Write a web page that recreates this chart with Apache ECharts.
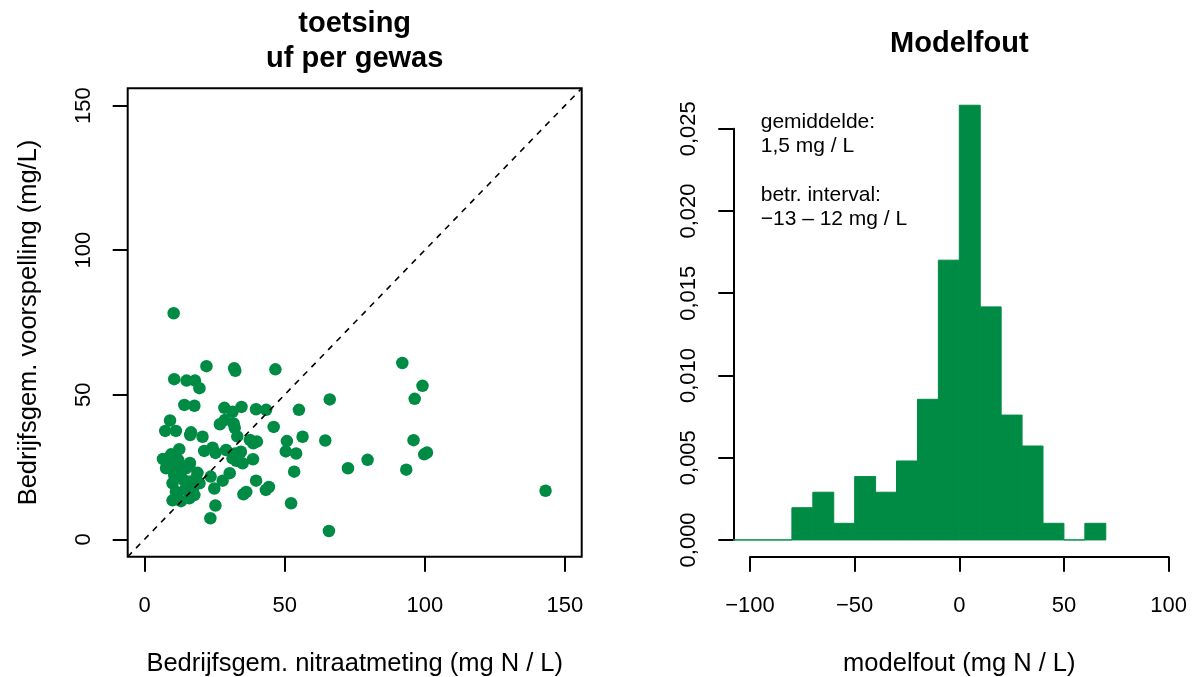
<!DOCTYPE html>
<html>
<head>
<meta charset="utf-8">
<script src="https://cdn.jsdelivr.net/npm/echarts@6/dist/echarts.min.js"></script>
<style>
  html, body { margin: 0; padding: 0; background: #fff; }
  #chart { width: 1194px; height: 677px; }
</style>
</head>
<body>
<div id="chart"></div>
<script>
// ---- data: bedrijfsgemiddelde meting vs. voorspelling (mg/L) ----
const measX = [
  10.4, 22.1, 32.0, 32.4, 46.7, 10.6, 15.0, 18.0, 19.6, 66.1,
  14.2, 17.8, 28.5, 31.4, 34.6, 39.8, 43.4, 55.1, 9.1, 28.7,
  26.9, 31.8, 32.2, 46.1, 7.4, 11.2, 16.6, 16.3, 20.7, 33.1,
  37.6, 38.8, 40.1, 50.8, 56.4, 64.5, 12.4, 9.5, 6.6, 21.3,
  24.3, 25.3, 29.1, 32.3, 34.4, 31.4, 32.8, 35.0, 38.7, 50.4,
  54.1, 72.6, 53.4, 30.4, 23.6, 27.9, 39.8, 24.9, 44.4, 43.3,
  35.3, 36.3, 52.3, 25.3, 23.5, 65.8, 92.0, 99.2, 96.4, 96.0,
  100.8, 99.8, 79.6, 93.4, 143.1, 7.7, 8.6, 10.0, 13.6, 14.8,
  16.0, 13.0, 10.6, 12.4, 18.4, 16.0, 17.8, 10.0, 19.6, 11.2,
  14.5, 17.2, 10.0, 13.0, 16.0, 17.8, 16.2, 12.0, 14.0, 18.9,
  11.8
];
const predY = [
  78.2, 59.9, 59.2, 58.3, 58.8, 55.4, 54.9, 54.9, 52.3, 48.4,
  46.5, 46.2, 45.5, 44.1, 45.8, 45.0, 44.8, 44.8, 41.1, 41.3,
  39.8, 40.1, 38.6, 38.9, 37.5, 37.5, 37.0, 36.1, 35.5, 35.6,
  34.4, 33.2, 33.8, 34.0, 35.5, 34.2, 31.2, 29.4, 27.8, 30.6,
  31.7, 29.9, 30.9, 29.7, 30.3, 28.0, 27.2, 26.3, 27.7, 30.4,
  29.7, 24.6, 23.4, 22.9, 21.7, 20.3, 20.3, 17.6, 18.1, 17.1,
  15.6, 16.4, 12.5, 11.7, 7.3, 2.9, 61.0, 53.1, 48.6, 34.3,
  30.0, 29.4, 27.5, 24.1, 16.8, 24.6, 26.0, 25.7, 25.1, 24.6,
  25.4, 23.4, 22.2, 22.8, 21.2, 19.9, 19.9, 19.4, 19.4, 16.5,
  17.3, 17.2, 13.5, 13.2, 14.2, 15.3, 26.4, 27.5, 20.5, 23.0,
  14.5
];

// ---- data: histogram of the model error (density per 10 mg N/L bin) ----
const binStarts = [-110, -100, -90, -80, -70, -60, -50, -40, -30, -20, -10, 0, 10, 20, 30, 40, 50, 60];
const binWidth = 10;
const density = [0, 0, 0, 0.00196, 0.0029, 0.00101, 0.00385, 0.0029, 0.0048, 0.00855,
                 0.01701, 0.02643, 0.01417, 0.00759, 0.00571, 0.00101, 0, 0.00101];

// ---- tick labels / axis ranges ----
const scatterTicks = [0, 50, 100, 150];
const histXTicks = [-100, -50, 0, 50, 100];
const histYTicks = [0, 0.005, 0.010, 0.015, 0.020, 0.025];
const scatterLim = [-6, 156];          // 0..150 widened by 4 %
const histXLim = [-108, 108];          // -100..100 widened by 4 %
const histYLim = [-0.00102, 0.02746];

// ---- layout ----
const FONT = '"Liberation Sans", Arial, Helvetica, sans-serif';
const GREEN = '#008B45';
const W = 1194, H = 677;
const leftBox  = { left: 127.7, top: 88.3, width: 454, height: 468.4 };
const rightBox = { left: 733.3, top: 88.3, width: 452, height: 468.4 };

// pixel span of [a, b] inside a box along x or y given the box's data limits
function spanX(box, lim, a, b) {
  const k = box.width / (lim[1] - lim[0]);
  return { left: box.left + (a - lim[0]) * k, width: (b - a) * k };
}
function spanY(box, lim, a, b) {
  const k = box.height / (lim[1] - lim[0]);
  return { top: box.top + (lim[1] - b) * k, height: (b - a) * k };
}

const sx = spanX(leftBox, scatterLim, scatterTicks[0], scatterTicks[scatterTicks.length - 1]);
const sy = spanY(leftBox, scatterLim, scatterTicks[0], scatterTicks[scatterTicks.length - 1]);
const hx = spanX(rightBox, histXLim, histXTicks[0], histXTicks[histXTicks.length - 1]);
const hy = spanY(rightBox, histYLim, histYTicks[0], histYTicks[histYTicks.length - 1]);
const boxBottom = H - (leftBox.top + leftBox.height);

const tickStyle = { show: true, inside: false, length: 15, lineStyle: { color: '#000', width: 2 } };
const labelStyle = { color: '#000', fontSize: 22, fontFamily: FONT };
const nameStyle = { color: '#000', fontSize: 25.5, fontFamily: FONT };
const minus = v => String(v).replace('-', '\u2212');

const grids = [
  { left: leftBox.left, top: leftBox.top, width: leftBox.width, height: leftBox.height,
    show: true, borderColor: '#000', borderWidth: 2, backgroundColor: 'transparent' },
  { left: sx.left, width: sx.width, bottom: boxBottom, height: 10 },
  { left: leftBox.left, width: 10, top: sy.top, height: sy.height },
  { left: rightBox.left, top: rightBox.top, width: rightBox.width, height: rightBox.height },
  { left: hx.left, width: hx.width, bottom: boxBottom, height: 10 },
  { left: rightBox.left, width: 10, top: hy.top, height: hy.height }
].map(g => Object.assign({ containLabel: false, outerBoundsMode: 'none' }, g));

const option = {
  animation: false,
  backgroundColor: '#fff',
  grid: grids,
  xAxis: [
    { gridIndex: 0, type: 'value', min: scatterLim[0], max: scatterLim[1], show: false },
    { gridIndex: 1, type: 'value', min: scatterTicks[0], max: scatterTicks[3], interval: 50,
      axisLine: { show: false }, axisTick: tickStyle, splitLine: { show: false },
      axisLabel: Object.assign({ margin: 38 }, labelStyle),
      name: 'Bedrijfsgem. nitraatmeting (mg N / L)', nameLocation: 'middle', nameGap: 94,
      nameTextStyle: nameStyle },
    { gridIndex: 2, type: 'value', show: false },
    { gridIndex: 3, type: 'value', min: histXLim[0], max: histXLim[1], show: false },
    { gridIndex: 4, type: 'value', min: histXTicks[0], max: histXTicks[4], interval: 50,
      axisLine: { show: true, lineStyle: { color: '#000', width: 2 } },
      axisTick: tickStyle, splitLine: { show: false },
      axisLabel: Object.assign({ margin: 38, formatter: minus }, labelStyle),
      name: 'modelfout (mg N / L)', nameLocation: 'middle', nameGap: 94,
      nameTextStyle: nameStyle },
    { gridIndex: 5, type: 'value', show: false }
  ],
  yAxis: [
    { gridIndex: 0, type: 'value', min: scatterLim[0], max: scatterLim[1], show: false },
    { gridIndex: 1, type: 'value', show: false },
    { gridIndex: 2, type: 'value', min: scatterTicks[0], max: scatterTicks[3], interval: 50,
      axisLine: { show: false }, axisTick: tickStyle, splitLine: { show: false },
      axisLabel: Object.assign({ margin: 33, rotate: 90 }, labelStyle),
      name: 'Bedrijfsgem. voorspelling (mg/L)', nameLocation: 'middle', nameGap: 86,
      nameRotate: 90, nameTextStyle: nameStyle },
    { gridIndex: 3, type: 'value', min: histYLim[0], max: histYLim[1], show: false },
    { gridIndex: 4, type: 'value', show: false },
    { gridIndex: 5, type: 'value', min: histYTicks[0], max: histYTicks[5], interval: 0.005,
      axisLine: { show: true, lineStyle: { color: '#000', width: 2 } },
      axisTick: tickStyle, splitLine: { show: false },
      axisLabel: Object.assign({ margin: 33, rotate: 90,
        formatter: v => v.toFixed(3).replace('.', ',') }, labelStyle) }
  ],
  series: [
    {
      type: 'scatter', xAxisIndex: 0, yAxisIndex: 0, silent: true, z: 2,
      symbol: 'circle', symbolSize: 12.5,
      itemStyle: { color: GREEN, opacity: 1 },
      data: measX.map((x, i) => [x, predY[i]])
    },
    {
      // 1:1 reference line across the full plotting range
      type: 'line', xAxisIndex: 0, yAxisIndex: 0, silent: true, z: 3,
      symbol: 'none',
      lineStyle: { color: '#000', width: 1.6, type: [6, 6] },
      data: [[scatterLim[0], scatterLim[0]], [scatterLim[1], scatterLim[1]]]
    },
    {
      type: 'custom', xAxisIndex: 3, yAxisIndex: 3, silent: true, clip: true,
      data: binStarts.map((b, i) => [b, b + binWidth, density[i]]),
      encode: { x: [0, 1], y: 2 },
      renderItem: (params, api) => {
        const p0 = api.coord([api.value(0), api.value(2)]);
        const p1 = api.coord([api.value(1), 0]);
        return {
          type: 'rect',
          shape: { x: p0[0], y: p0[1], width: p1[0] - p0[0], height: p1[1] - p0[1] },
          style: { fill: GREEN, stroke: GREEN, lineWidth: 1 }
        };
      }
    }
  ],
  graphic: [
    { type: 'text', x: leftBox.left + leftBox.width / 2, y: 24, silent: true,
      style: { text: 'toetsing', fontSize: 29, fontWeight: 'bold', fontFamily: FONT, fill: '#000',
               align: 'center', verticalAlign: 'middle', textAlign: 'center', textVerticalAlign: 'middle' } },
    { type: 'text', x: leftBox.left + leftBox.width / 2, y: 59, silent: true,
      style: { text: 'uf per gewas', fontSize: 29, fontWeight: 'bold', fontFamily: FONT, fill: '#000',
               align: 'center', verticalAlign: 'middle', textAlign: 'center', textVerticalAlign: 'middle' } },
    { type: 'text', x: rightBox.left + rightBox.width / 2, y: 44, silent: true,
      style: { text: 'Modelfout', fontSize: 29, fontWeight: 'bold', fontFamily: FONT, fill: '#000',
               align: 'center', verticalAlign: 'middle', textAlign: 'center', textVerticalAlign: 'middle' } },
    { type: 'text', x: 760.7, y: 110, silent: true,
      style: { text: 'gemiddelde:\n1,5 mg / L\n\nbetr. interval:\n\u221213 \u2013 12 mg / L',
               fontSize: 21, lineHeight: 24.3, fontFamily: FONT, fill: '#000',
               align: 'left', verticalAlign: 'top', textAlign: 'left', textVerticalAlign: 'top' } }
  ]
};

const chart = echarts.init(document.getElementById('chart'), null, { renderer: 'canvas', width: W, height: H });
chart.setOption(option);
</script>
</body>
</html>
